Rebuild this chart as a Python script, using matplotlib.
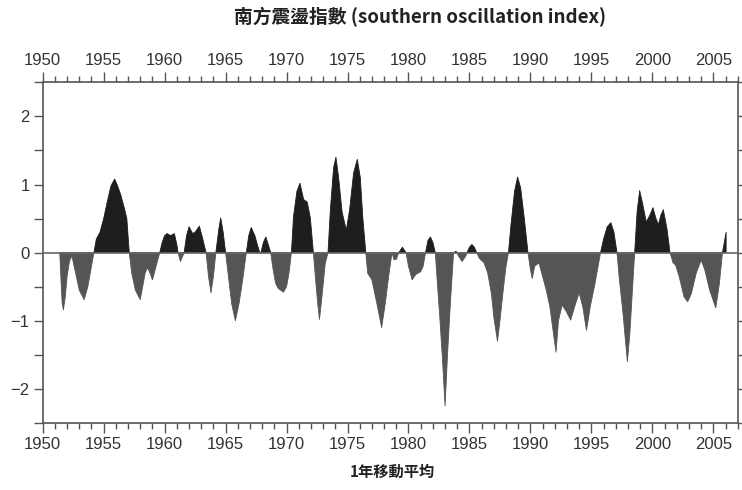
import matplotlib
matplotlib.use("Agg")
import matplotlib.pyplot as plt
import numpy as np
from matplotlib.ticker import MultipleLocator

# Southern Oscillation Index, 12-month moving average
years = [
    1951.4, 1951.5, 1951.6, 1951.7, 1951.85, 1952.0, 1952.2, 1952.4, 1952.7, 1953.0,
    1953.4, 1953.7, 1954.0, 1954.2, 1954.4, 1954.7, 1955.0, 1955.3, 1955.6, 1955.9,
    1956.1, 1956.4, 1956.7, 1956.9, 1957.0, 1957.1, 1957.3, 1957.6, 1958.0, 1958.2,
    1958.4, 1958.6, 1958.8, 1959.0, 1959.3, 1959.6, 1959.8, 1960.0, 1960.2, 1960.5,
    1960.8, 1961.0, 1961.1, 1961.3, 1961.6, 1961.8, 1962.0, 1962.3, 1962.5, 1962.85,
    1963.1, 1963.4, 1963.6, 1963.8, 1964.0, 1964.2, 1964.45, 1964.6, 1964.8, 1965.0,
    1965.2, 1965.5, 1965.8, 1966.1, 1966.4, 1966.7, 1966.9, 1967.1, 1967.4, 1967.6,
    1967.8, 1967.9, 1968.1, 1968.3, 1968.5, 1968.7, 1968.9, 1969.1, 1969.3, 1969.5,
    1969.75, 1970.0, 1970.2, 1970.4, 1970.57, 1970.85, 1971.1, 1971.4, 1971.7, 1971.95,
    1972.2, 1972.36, 1972.55, 1972.7, 1972.9, 1973.17, 1973.4, 1973.6, 1973.86, 1974.05,
    1974.27, 1974.55, 1974.9, 1975.17, 1975.5, 1975.8, 1976.05, 1976.25, 1976.5, 1976.65,
    1977.0, 1977.4, 1977.8, 1978.1, 1978.37, 1978.65, 1978.8, 1979.0, 1979.2, 1979.5,
    1979.8, 1980.0, 1980.3, 1980.6, 1981.0, 1981.2, 1981.4, 1981.6, 1981.8, 1982.0,
    1982.2, 1982.35, 1982.55, 1982.8, 1983.0, 1983.2, 1983.45, 1983.7, 1983.9, 1984.1,
    1984.4, 1984.7, 1984.8, 1985.0, 1985.2, 1985.4, 1985.6, 1985.8, 1986.2, 1986.5,
    1986.8, 1987.0, 1987.3, 1987.5, 1987.8, 1988.0, 1988.2, 1988.4, 1988.7, 1988.95,
    1989.2, 1989.5, 1989.8, 1990.0, 1990.15, 1990.35, 1990.7, 1991.0, 1991.3, 1991.6,
    1991.9, 1992.1, 1992.3, 1992.6, 1992.9, 1993.3, 1993.7, 1994.0, 1994.3, 1994.6,
    1994.9, 1995.3, 1995.75, 1996.0, 1996.3, 1996.6, 1996.85, 1997.1, 1997.3, 1997.6,
    1997.95, 1998.15, 1998.35, 1998.55, 1998.75, 1998.96, 1999.2, 1999.5, 1999.8, 2000.05,
    2000.3, 2000.5, 2000.7, 2000.9, 2001.2, 2001.45, 2001.7, 2001.9, 2002.2, 2002.6,
    2002.9, 2003.2, 2003.6, 2004.0, 2004.3, 2004.7, 2005.2, 2005.5, 2005.75, 2005.9,
    2006.05]
soi = [
    0.0, -0.4, -0.75, -0.84, -0.65, -0.35, -0.12, -0.05, -0.3, -0.55,
    -0.69, -0.5, -0.2, 0.0, 0.2, 0.3, 0.5, 0.75, 0.98, 1.08,
    1.0, 0.85, 0.65, 0.5, 0.25, 0.0, -0.3, -0.55, -0.69, -0.5,
    -0.3, -0.22, -0.3, -0.4, -0.2, 0.0, 0.15, 0.25, 0.28, 0.25,
    0.28, 0.12, 0.0, -0.13, 0.0, 0.25, 0.38, 0.28, 0.3, 0.39,
    0.22, 0.0, -0.35, -0.59, -0.35, 0.0, 0.35, 0.51, 0.3, 0.0,
    -0.3, -0.75, -1.0, -0.75, -0.4, 0.0, 0.25, 0.37, 0.25, 0.12,
    0.0, 0.0, 0.15, 0.23, 0.12, 0.0, -0.25, -0.45, -0.52, -0.55,
    -0.58, -0.5, -0.3, 0.0, 0.53, 0.9, 1.02, 0.78, 0.74, 0.51,
    0.0, -0.35, -0.74, -0.98, -0.65, -0.16, 0.0, 0.65, 1.25, 1.40,
    1.1, 0.6, 0.33, 0.63, 1.17, 1.37, 1.1, 0.52, 0.0, -0.3,
    -0.4, -0.74, -1.1, -0.74, -0.35, 0.0, -0.1, -0.1, 0.0, 0.08,
    0.0, -0.2, -0.4, -0.32, -0.28, -0.2, 0.0, 0.18, 0.23, 0.15,
    0.0, -0.4, -0.9, -1.6, -2.25, -1.5, -0.7, 0.0, 0.02, -0.05,
    -0.13, -0.05, 0.0, 0.08, 0.12, 0.08, 0.0, -0.08, -0.15, -0.3,
    -0.6, -0.95, -1.3, -1.0, -0.5, -0.2, 0.0, 0.4, 0.9, 1.11,
    0.95, 0.5, 0.0, -0.25, -0.38, -0.2, -0.15, -0.35, -0.55, -0.8,
    -1.2, -1.46, -1.0, -0.77, -0.85, -0.99, -0.75, -0.59, -0.8, -1.14,
    -0.8, -0.45, 0.0, 0.2, 0.38, 0.44, 0.3, 0.0, -0.4, -0.9,
    -1.6, -1.2, -0.6, 0.0, 0.6, 0.91, 0.72, 0.45, 0.55, 0.66,
    0.5, 0.41, 0.55, 0.63, 0.35, 0.0, -0.15, -0.18, -0.35, -0.65,
    -0.72, -0.6, -0.3, -0.11, -0.25, -0.55, -0.81, -0.45, 0.0, 0.15,
    0.30]

xticks = [1950, 1955, 1960, 1965, 1970, 1975, 1980, 1985, 1990, 1995, 2000, 2005]
yticks = [-2, -1, 0, 1, 2]
ytick_labels = ["\u22122", "\u22121", "0", "1", "2"]
title = "南方震盪指數 (southern oscillation index)"
xlabel = "1年移動平均"

x = np.array(years)
y = np.array(soi)

fig = plt.figure(figsize=(7.42, 4.90), dpi=100)
ax = fig.add_axes([42.7 / 742, 1 - 423 / 490, (737.7 - 42.7) / 742, (423 - 82.3) / 490])

ax.fill_between(x, y, 0, where=y >= 0, interpolate=True, color="#1e1e1e", lw=0.6,
                edgecolor="#1e1e1e")
ax.fill_between(x, y, 0, where=y <= 0, interpolate=True, color="#555555", lw=0.6,
                edgecolor="#555555")
ax.axhline(0, color="#666666", lw=1.2, zorder=3)

ax.set_xlim(1950, 2007)
ax.set_ylim(-2.5, 2.5)
ax.set_xticks(xticks)
ax.xaxis.set_minor_locator(MultipleLocator(1))
ax.set_yticks(yticks)
ax.set_yticklabels(ytick_labels)
ax.yaxis.set_minor_locator(MultipleLocator(0.5))

tick_font = ["Liberation Sans", "DejaVu Sans"]

ax.tick_params(axis="x", which="both", direction="out", top=True, bottom=True,
               labeltop=True, labelbottom=True, color="#555555", width=1.0,
               labelsize=12, labelcolor="#333333")
ax.tick_params(axis="x", which="major", length=7, pad=3)
ax.tick_params(axis="x", which="minor", length=4)
ax.tick_params(axis="y", which="both", direction="out", left=True, right=True,
               length=6.5, color="#555555", width=1.0, labelsize=12,
               labelcolor="#333333", pad=3)

for s in ax.spines.values():
    s.set_color("#555555")
    s.set_linewidth(1.2)

for t in ax.xaxis.get_major_ticks() + ax.yaxis.get_major_ticks():
    t.label1.set_family(tick_font)
    t.label2.set_family(tick_font)

fig.text(420 / 742, 1 - 17 / 490, title, ha="center", va="center", fontsize=13.5,
         fontweight="bold", color="#222222",
         family=["Noto Sans CJK TC", "DejaVu Sans"])
fig.text(392 / 742, 1 - 472 / 490, xlabel, ha="center", va="center", fontsize=11,
         fontweight="bold", color="#222222",
         family=["Noto Sans CJK TC", "DejaVu Sans"])

fig.savefig("out.png", dpi=100)
